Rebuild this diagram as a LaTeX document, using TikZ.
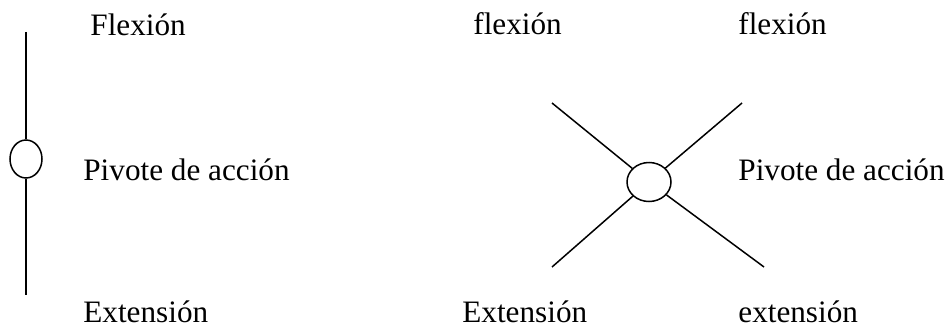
\documentclass[tikz,border=0pt]{standalone}
\usepackage{fontspec}
\setmainfont{Liberation Serif}
\usetikzlibrary{shapes.geometric}

\begin{document}
\begin{tikzpicture}[
  x=0.5pt, y=-0.5pt,
  font=\fontsize{15.6}{18}\selectfont,
  lbl/.style={anchor=base west, inner sep=0pt},
  pivot/.style={draw, ellipse, inner sep=0pt, line width=0.75pt},
  bar/.style={line width=0.75pt}
]
  \useasboundingbox (0,0) rectangle (945,326);

  % single axis
  \node[pivot, minimum width=16pt, minimum height=19pt] (p1) at (26,159) {};
  \coordinate (top) at (26,32);
  \coordinate (bot) at (26,295);
  \draw[bar] (top) -- (p1);
  \draw[bar] (p1) -- (bot);

  \node[lbl] (flex) at (90,36) {Flexión};
  \node[lbl] (piv1) at (83,180) {Pivote de acción};
  \node[lbl] (ext) at (83,322) {Extensión};

  % crossed axes
  \node[pivot, minimum width=22pt, minimum height=19.5pt] (p2) at (649,182) {};
  \coordinate (ul) at (552,103);
  \coordinate (ur) at (742,103);
  \coordinate (ll) at (552,267);
  \coordinate (lr) at (764,267);
  \draw[bar] (ul) -- (p2);
  \draw[bar] (ur) -- (p2);
  \draw[bar] (ll) -- (p2);
  \draw[bar] (lr) -- (p2);

  \node[lbl] (flexl) at (473,35) {flexión};
  \node[lbl] (flexr) at (738,35) {flexión};
  \node[lbl] (piv2) at (738,180) {Pivote de acción};
  \node[lbl] (extl) at (462,322) {Extensión};
  \node[lbl] (extr) at (738,322) {extensión};
\end{tikzpicture}
\end{document}
